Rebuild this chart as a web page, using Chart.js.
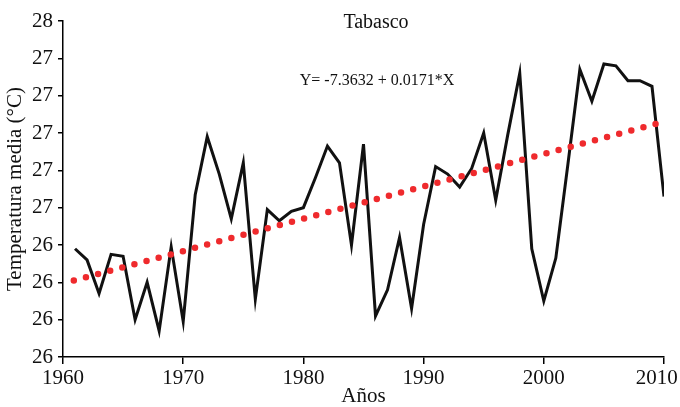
<!DOCTYPE html>
<html lang="es">
  <head>
    <meta charset="UTF-8" />
    <meta name="viewport" content="width=device-width, initial-scale=1.0" />
    <title>Tabasco</title>
    <style>
      html, body {
        margin: 0;
        padding: 0;
        background: #fff;
      }
      #chart-box {
        width: 680px;
        height: 407px;
      }
    </style>
  </head>
  <body>
    <div id="chart-box"><canvas id="myChart"></canvas></div>
    <script src="https://cdn.jsdelivr.net/npm/chart.js"></script>
    <script>
      const chartTitle = 'Tabasco'
      const equation = 'Y= -7.3632 + 0.0171*X'

      // annual mean temperature
      const years = [
        1961, 1962, 1963, 1964, 1965, 1966, 1967, 1968, 1969, 1970,
        1971, 1972, 1973, 1974, 1975, 1976, 1977, 1978, 1979, 1980,
        1981, 1982, 1983, 1984, 1985, 1986, 1987, 1988, 1989, 1990,
        1991, 1992, 1993, 1994, 1995, 1996, 1997, 1998, 1999, 2000,
        2001, 2002, 2003, 2004, 2005, 2006, 2007, 2008, 2009, 2010
      ]
      const temps = [
        26.33, 26.27, 26.09, 26.30, 26.29, 25.95, 26.15, 25.89, 26.34, 25.94,
        26.62, 26.93, 26.73, 26.49, 26.79, 26.06, 26.54, 26.48, 26.53, 26.55,
        26.71, 26.88, 26.79, 26.35, 26.89, 25.97, 26.11, 26.39, 26.01, 26.46,
        26.77, 26.73, 26.66, 26.76, 26.95, 26.59, 26.94, 27.27, 26.33, 26.05,
        26.28, 26.78, 27.29, 27.12, 27.32, 27.31, 27.23, 27.23, 27.20, 26.61
      ]

      // ends of the dotted trend line
      const trendYears = [1960.9, 2009.4]
      const trendTemps = [26.16, 27.0]

      const xTicks = [1960, 1970, 1980, 1990, 2000, 2010]
      const xTickLabels = ['1960', '1970', '1980', '1990', '2000', '2010']
      const yTickValues = [25.75, 25.95, 26.15, 26.35, 26.55, 26.75, 26.95, 27.15, 27.35, 27.55]
      const yTickLabels = ['26', '26', '26', '26', '27', '27', '27', '27', '27', '28']

      const serif = '"Liberation Serif", "Times New Roman", serif'
      const ink = '#111'

      const textPlugin = {
        id: 'chartTexts',
        afterDraw(chart) {
          const ctx = chart.ctx
          ctx.save()
          ctx.fillStyle = ink
          ctx.textAlign = 'center'
          ctx.textBaseline = 'alphabetic'
          ctx.font = '20px ' + serif
          ctx.fillText(chartTitle, 376, 28)
          ctx.font = '16px ' + serif
          ctx.fillText(equation, 377, 84.5)
          ctx.restore()
        }
      }

      const ctx = document.getElementById('myChart')
      const myChart = new Chart(ctx, {
        type: 'line',
        data: {
          datasets: [
            {
              data: trendYears.map((y, i) => ({ x: y, y: trendTemps[i] })),
              borderColor: '#ef2a2d',
              borderWidth: 6.5,
              borderDash: [0, 12.55],
              borderCapStyle: 'round',
              pointRadius: 0,
              order: 0
            },
            {
              data: years.map((y, i) => ({ x: y, y: temps[i] })),
              borderColor: ink,
              borderWidth: 3,
              pointRadius: 0,
              tension: 0,
              order: 1
            }
          ]
        },
        options: {
          responsive: true,
          maintainAspectRatio: false,
          animation: false,
          layout: {
            padding: { top: 21, right: 16, bottom: 0, left: 0 }
          },
          plugins: {
            legend: { display: false },
            tooltip: { enabled: false }
          },
          scales: {
            x: {
              type: 'linear',
              min: 1960,
              max: 2010,
              afterBuildTicks: (scale) => {
                scale.ticks = xTicks.map((v) => ({ value: v }))
              },
              afterFit: (scale) => {
                scale.height = 50
                scale.paddingLeft = 0
                scale.paddingRight = 0
              },
              grid: {
                drawOnChartArea: false,
                tickLength: 7,
                color: '#000',
                lineWidth: 1.5
              },
              border: { color: '#000', width: 1.5 },
              ticks: {
                color: ink,
                font: { family: serif, size: 21 },
                padding: 2,
                maxRotation: 0,
                autoSkip: false,
                // last label nudged left so it stays inside the canvas
                callback: (v, i) =>
                  i === xTickLabels.length - 1 ? xTickLabels[i] + '\u2002\u2009' : xTickLabels[i]
              },
              title: {
                display: true,
                text: 'Años',
                color: ink,
                font: { family: serif, size: 21, lineHeight: 1 },
                padding: 0
              }
            },
            y: {
              min: 25.75,
              max: 27.55,
              afterBuildTicks: (scale) => {
                scale.ticks = yTickValues.map((v) => ({ value: v }))
              },
              afterFit: (scale) => {
                scale.width = 63
                scale.paddingTop = 0
                scale.paddingBottom = 0
              },
              grid: {
                drawOnChartArea: false,
                tickLength: 5,
                color: '#000',
                lineWidth: 1.5
              },
              border: { color: '#000', width: 1.5 },
              ticks: {
                color: ink,
                font: { family: serif, size: 21 },
                padding: 5,
                autoSkip: false,
                callback: (v, i) => yTickLabels[i]
              },
              title: {
                display: true,
                text: 'Temperatura media (°C)',
                color: ink,
                font: { family: serif, size: 21 },
                padding: { top: 3, bottom: 0 }
              }
            }
          }
        },
        plugins: [textPlugin]
      })
    </script>
  </body>
</html>
